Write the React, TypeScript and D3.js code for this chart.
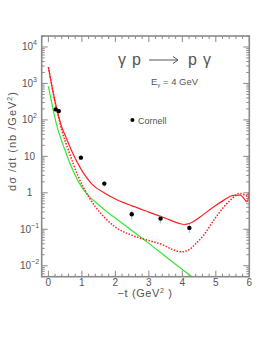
import React from "react";
import * as d3 from "d3";

// Model curves (−t in GeV², dσ/dt in nb/GeV²)
const tSolid = [0, 0.1, 0.2, 0.3, 0.4, 0.5, 0.7, 1.0, 1.3, 1.7, 2.0, 2.5, 3.0, 3.5, 3.9, 4.05, 4.25, 4.53, 4.93, 5.23, 5.53, 5.73, 5.85, 5.93, 6.0];
const ySolid = [2800, 890, 316, 132, 63, 38, 13.8, 4.07, 1.74, 0.955, 0.676, 0.437, 0.295, 0.2, 0.145, 0.135, 0.148, 0.217, 0.41, 0.62, 0.855, 0.86, 0.68, 0.57, 0.95];

const tDotted = [0, 0.1, 0.2, 0.3, 0.4, 0.6, 0.9, 1.2, 1.4, 1.7, 2.0, 2.5, 3.0, 3.4, 3.7, 3.97, 4.2, 4.4, 4.64, 4.94, 5.24, 5.54, 5.68, 5.8, 5.9, 6.0];
const yDotted = [2800, 890, 302, 120, 52, 14.5, 2.7, 0.79, 0.417, 0.2, 0.115, 0.068, 0.049, 0.038, 0.028, 0.024, 0.0275, 0.04, 0.069, 0.178, 0.41, 0.77, 0.955, 0.93, 0.83, 1.05];

const tGreen = [0, 0.25, 0.5, 0.75, 1.0, 1.25, 1.5, 1.75, 2.0, 2.5, 3.0, 3.5, 4.0, 4.5];
const yGreen = [832, 70.8, 14.5, 3.8, 1.41, 0.74, 0.47, 0.3, 0.204, 0.091, 0.041, 0.0178, 0.0079, 0.0035];

// Cornell data
const tData = [0.22, 0.31, 0.97, 1.67, 2.49, 3.35, 4.21];
const yData = [194, 174, 9.2, 1.79, 0.258, 0.196, 0.109];
const eData = [20, 20, 1.2, 0.3, 0.07, 0.05, 0.03];

const xTicks = [0, 1, 2, 3, 4, 5, 6];
const yDecades = [-2, -1, 0, 1, 2, 3, 4];

const W = 277, H = 358;
const L = 41.7, R = 249.3, T = 36, B = 276.7;

export default function App() {
  const x = d3.scaleLinear().domain([-0.2, 6]).range([L, R]);
  const y = d3.scaleLog().domain([0.005, 20000]).range([B, T]);
  const line = d3.line<[number, number]>().x(d => x(d[0])).y(d => y(d[1])).curve(d3.curveMonotoneX);
  const solid = tSolid.map((t, i) => [t, ySolid[i]] as [number, number]);
  const dotted = tDotted.map((t, i) => [t, yDotted[i]] as [number, number]);
  const green = tGreen.map((t, i) => [t, yGreen[i]] as [number, number]);

  const gray = "#8a8a8a";
  const txt = "#555";
  const font = "'Liberation Sans', Arial, sans-serif";

  const minorX = d3.range(-0.2, 6.0001, 0.2).map(v => +v.toFixed(2));
  const minorY: number[] = [];
  for (let k = -3; k <= 4; k++) for (let m = 2; m <= 9; m++) {
    const v = m * Math.pow(10, k);
    if (v >= 0.005 && v <= 20000) minorY.push(v);
  }

  const yLabel = (k: number) => {
    if (k === 0) return <tspan>1</tspan>;
    if (k === 1) return <tspan>10</tspan>;
    return (
      <>
        <tspan>10</tspan>
        <tspan fontSize={7} dy={-5}>{k < 0 ? "\u2212" + -k : String(k)}</tspan>
      </>
    );
  };

  return (
    <svg width={W} height={H} style={{ position: "absolute", left: 0, top: 0, background: "#fff" }} fontFamily={font}>
      <defs>
        <clipPath id="frame">
          <rect x={L} y={T} width={R - L} height={B - T} />
        </clipPath>
      </defs>
      {/* ticks */}
      <g stroke={gray} strokeWidth={1}>
        {minorX.map((v, i) => {
          const major = Math.abs(v - Math.round(v)) < 1e-6;
          const len = major ? 6 : 3;
          return (
            <g key={"xt" + i}>
              <line x1={x(v)} x2={x(v)} y1={B} y2={B - len} />
              <line x1={x(v)} x2={x(v)} y1={T} y2={T + len} />
            </g>
          );
        })}
        {minorY.map((v, i) => (
          <g key={"ym" + i}>
            <line x1={L} x2={L + 3} y1={y(v)} y2={y(v)} />
            <line x1={R} x2={R - 3} y1={y(v)} y2={y(v)} />
          </g>
        ))}
        {yDecades.map(k => (
          <g key={"yM" + k}>
            <line x1={L} x2={L + 6} y1={y(Math.pow(10, k))} y2={y(Math.pow(10, k))} />
            <line x1={R} x2={R - 6} y1={y(Math.pow(10, k))} y2={y(Math.pow(10, k))} />
          </g>
        ))}
      </g>
      {/* curves */}
      <g clipPath="url(#frame)" fill="none">
        <path d={line(green) || ""} stroke="#33e633" strokeWidth={1.2} />
        <path d={line(dotted) || ""} stroke="#ff2020" strokeWidth={1.5} strokeDasharray="1.5,1.5" />
        <path d={line(solid) || ""} stroke="#ff2020" strokeWidth={1.2} />
      </g>
      {/* data */}
      <g>
        {tData.map((t, i) => (
          <line key={"e" + i} x1={x(t)} x2={x(t)} y1={y(yData[i] + eData[i])} y2={y(yData[i] - eData[i])} stroke="#bbb" strokeWidth={1} />
        ))}
        {tData.map((t, i) => (
          <circle key={"p" + i} cx={x(t)} cy={y(yData[i])} r={2.2} fill="#000" />
        ))}
      </g>
      {/* frame */}
      <rect x={L} y={T} width={R - L} height={B - T} fill="none" stroke={gray} strokeWidth={1.6} />
      {/* x tick labels */}
      <g fill={txt} fontSize={10} textAnchor="middle">
        {xTicks.map(v => (
          <text key={"xl" + v} x={x(v)} y={286}>{v}</text>
        ))}
      </g>
      {/* y tick labels */}
      <g fill={txt} fontSize={10} textAnchor="middle">
        {yDecades.map(k => (
          <text key={"yl" + k} x={29.5} y={y(Math.pow(10, k)) + 3.5}>{yLabel(k)}</text>
        ))}
      </g>
      {/* axis titles */}
      <text x={145} y={297} fill={txt} fontSize={11} textAnchor="middle" letterSpacing={0.6}>
        {"\u2212t  (GeV"}<tspan fontSize={7} dy={-4}>2</tspan><tspan dy={4}>{" )"}</tspan>
      </text>
      <text transform="translate(16,141) rotate(-90)" fill={txt} fontSize={11} textAnchor="middle" letterSpacing={1}>
        {"d\u03c3 /dt (nb /GeV"}<tspan fontSize={7} dy={-4}>2</tspan><tspan dy={4}>)</tspan>
      </text>
      {/* title */}
      <g fill={txt} fontSize={16}>
        <text x={118} y={65}>{"\u03b3"}</text>
        <text x={132} y={65}>p</text>
        <text x={188} y={65}>p</text>
        <text x={203} y={65}>{"\u03b3"}</text>
      </g>
      <g stroke={txt} strokeWidth={1} fill="none">
        <line x1={149} x2={178} y1={60} y2={60} />
        <polyline points="173,56.5 178,60 173,63.5" />
      </g>
      <text x={151} y={85} fill={txt} fontSize={9.5}>
        E<tspan fontSize={6} dy={2}>{"\u03b3"}</tspan><tspan dy={-2}>{" = 4 GeV"}</tspan>
      </text>
      {/* legend */}
      <circle cx={x(2.51)} cy={y(100)} r={2} fill="#000" />
      <text x={138} y={123.5} fill={txt} fontSize={9}>Cornell</text>
    </svg>
  );
}
